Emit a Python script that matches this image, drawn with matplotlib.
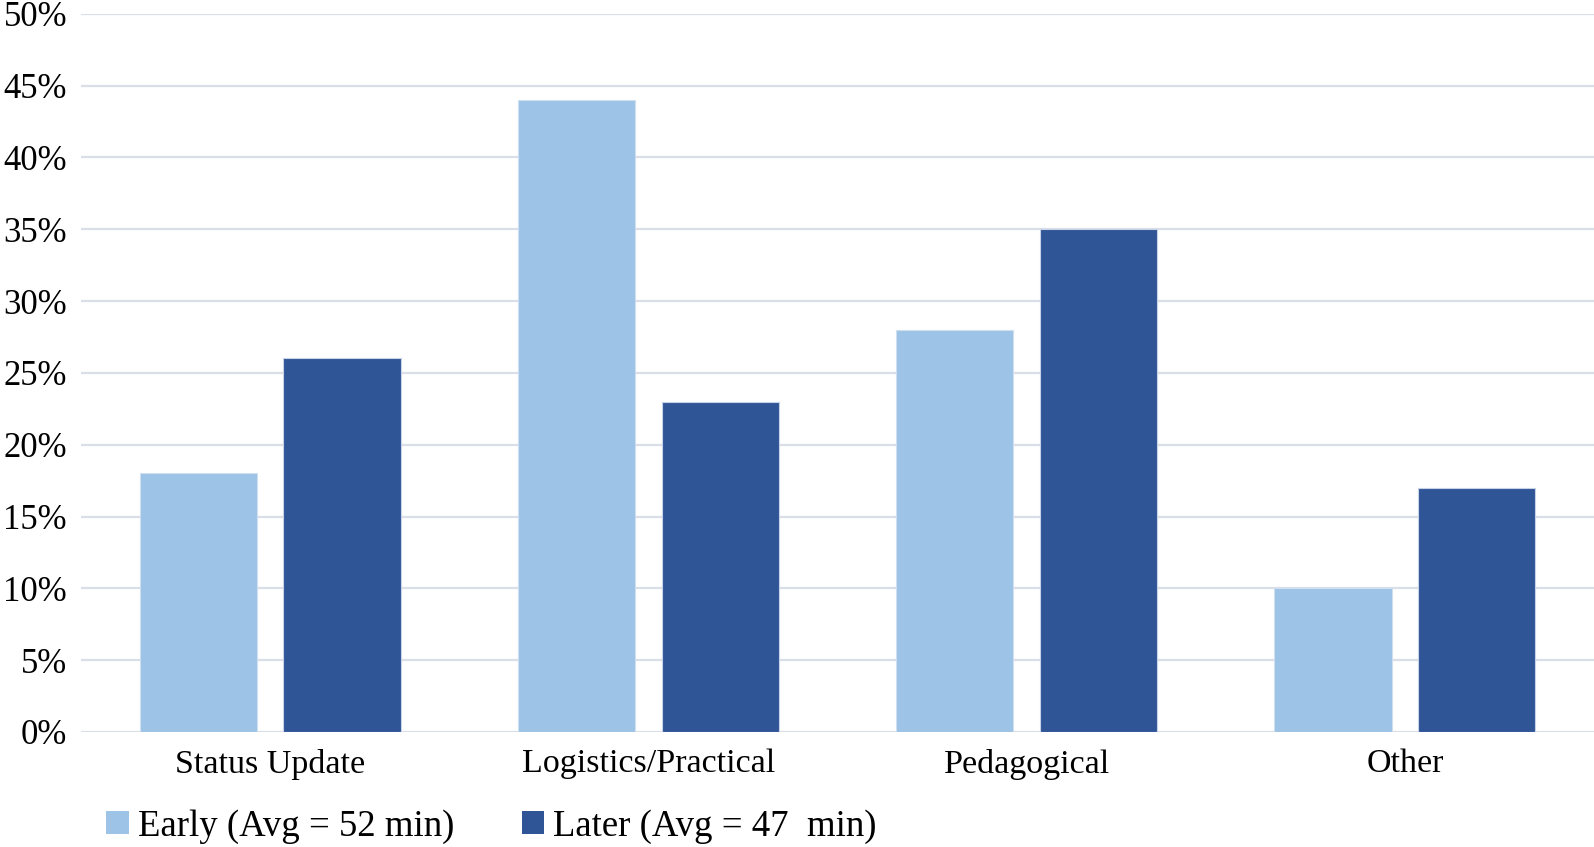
import matplotlib
matplotlib.use('Agg')
import matplotlib.pyplot as plt
import matplotlib.ticker as ticker
from matplotlib.patches import Patch
import numpy as np

categories = ['Status Update', 'Logistics/Practical', 'Pedagogical', 'Other']
early = [18, 44, 28, 10]
later = [26, 23, 35, 17]
series_labels = ['Early (Avg = 52 min)', 'Later (Avg = 47  min)']

light_blue = '#9dc3e6'
dark_blue = '#2f5597'
grid_color = '#d9dee7'

plt.rcParams['font.family'] = ['Liberation Serif', 'DejaVu Serif']

fig = plt.figure(figsize=(15.94, 8.47), dpi=100)
ax = fig.add_axes([0.0508, 0.1358, 0.9492, 0.848])

x = np.arange(len(categories))
w = 0.31
off = 0.19
ax.bar(x - off, early, w, color=light_blue, edgecolor='#cfdff0', linewidth=0.8, zorder=3)
ax.bar(x + off, later, w, color=dark_blue, edgecolor='#c8d2e6', linewidth=0.8, zorder=3)

ax.set_xlim(-0.5, len(categories) - 0.5)
ax.set_ylim(0, 50)
ax.yaxis.set_major_locator(ticker.MultipleLocator(5))
ax.yaxis.set_major_formatter(ticker.FuncFormatter(lambda v, p: f'{v:.0f}%'))
ax.set_xticks(x)
ax.set_xticklabels(categories)
ax.tick_params(axis='x', length=0, labelsize=24.5, pad=12)
ax.tick_params(axis='y', length=0, labelsize=25, pad=10)

ax.grid(axis='y', color=grid_color, linewidth=1.6, zorder=0)
for s in ax.spines.values():
    s.set_visible(False)
ax.set_axisbelow(True)

handles = [Patch(facecolor=light_blue, edgecolor='none'),
           Patch(facecolor=dark_blue, edgecolor='none')]
fig.legend(handles, series_labels, loc='lower left', bbox_to_anchor=(0.046, -0.035),
           ncol=2, frameon=False, fontsize=26.5, handlelength=0.6, handleheight=0.6,
           handletextpad=0.25, columnspacing=1.85)

fig.savefig('out.png', dpi=100)
